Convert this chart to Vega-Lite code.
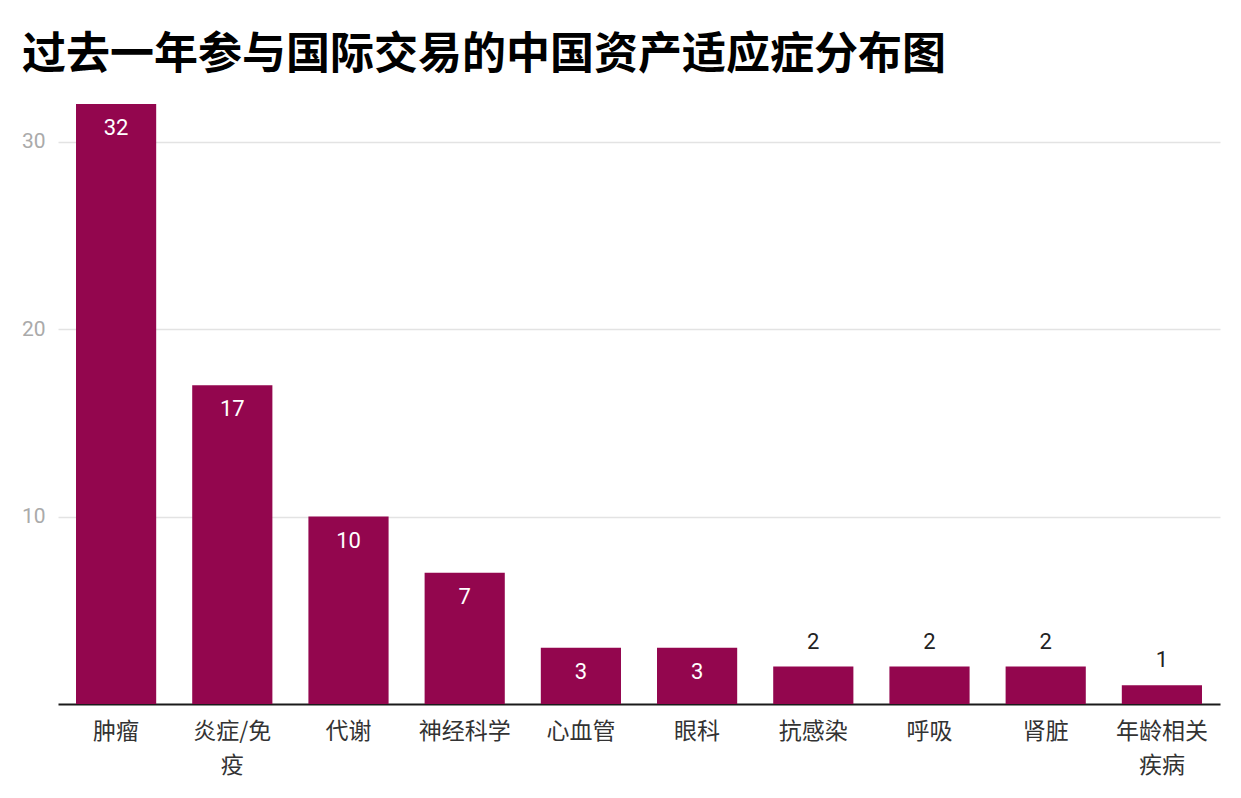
{
  "$schema": "https://vega.github.io/schema/vega-lite/v6.json",
  "autosize": {"type": "none"},
  "width": 1162,
  "height": 600,
  "padding": {"left": 58, "top": 104, "right": 21, "bottom": 94},
  "background": "white",
  "title": {
    "text": "过去一年参与国际交易的中国资产适应症分布图",
    "anchor": "start",
    "frame": "group",
    "dx": -36,
    "offset": 26,
    "font": "Noto Sans CJK SC",
    "fontSize": 44,
    "fontWeight": "bold",
    "color": "#000000"
  },
  "data": {
    "values": [
      {"category": "肿瘤", "count": 32},
      {"category": "炎症/免\n疫", "count": 17},
      {"category": "代谢", "count": 10},
      {"category": "神经科学", "count": 7},
      {"category": "心血管", "count": 3},
      {"category": "眼科", "count": 3},
      {"category": "抗感染", "count": 2},
      {"category": "呼吸", "count": 2},
      {"category": "肾脏", "count": 2},
      {"category": "年龄相关\n疾病", "count": 1}
    ]
  },
  "encoding": {
    "x": {
      "field": "category",
      "type": "nominal",
      "sort": null,
      "scale": {"paddingInner": 0.31, "paddingOuter": 0.155},
      "axis": {
        "title": null,
        "labelAngle": 0,
        "labelExpr": "split(datum.value, '\\n')",
        "labelFont": "Noto Sans CJK SC",
        "labelFontSize": 23,
        "labelColor": "#333333",
        "labelLineHeight": 34,
        "labelPadding": 16,
        "labelBaseline": "top",
        "ticks": false,
        "domainColor": "#1a1a1a",
        "domainWidth": 2,
        "grid": false
      }
    },
    "y": {
      "field": "count",
      "type": "quantitative",
      "scale": {"domain": [0, 32], "nice": false},
      "axis": {
        "title": null,
        "values": [10, 20, 30],
        "domain": false,
        "ticks": false,
        "labelFont": "Roboto",
        "labelFontSize": 21,
        "labelColor": "#aaaaaa",
        "labelPadding": 13,
        "gridColor": "#e3e3e3",
        "gridWidth": 1.5
      }
    }
  },
  "layer": [
    {"mark": {"type": "bar", "color": "#93064e"}},
    {
      "transform": [{"filter": "datum.count >= 3"}],
      "mark": {"type": "text", "font": "Roboto", "fontSize": 22, "color": "#ffffff", "dy": 24, "baseline": "middle"},
      "encoding": {"text": {"field": "count", "type": "quantitative"}}
    },
    {
      "transform": [{"filter": "datum.count < 3"}],
      "mark": {"type": "text", "font": "Roboto", "fontSize": 22, "color": "#222222", "dy": -25, "baseline": "middle"},
      "encoding": {"text": {"field": "count", "type": "quantitative"}}
    }
  ],
  "config": {"view": {"stroke": null}}
}
